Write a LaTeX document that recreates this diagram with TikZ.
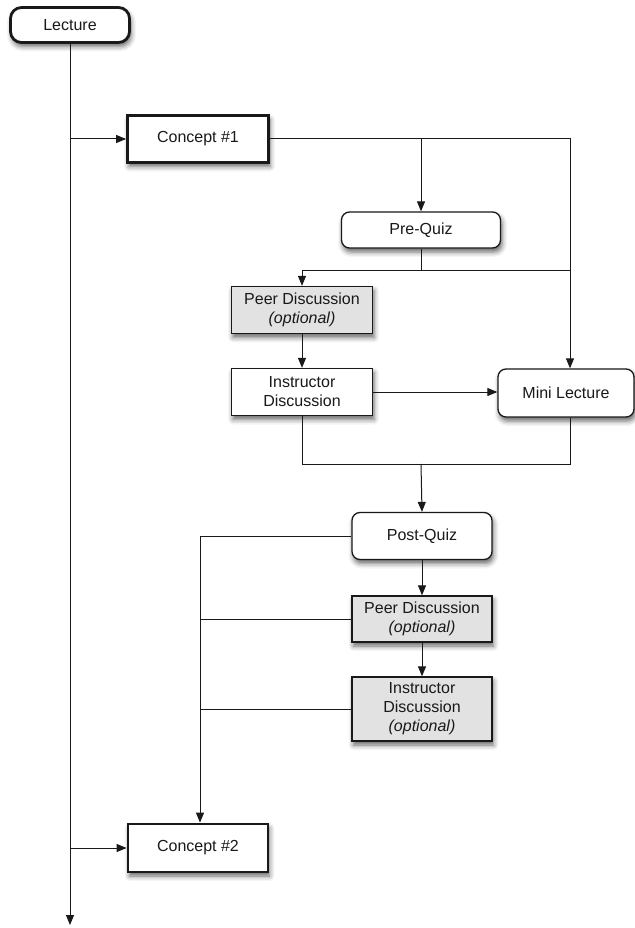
\documentclass[tikz,border=0pt]{standalone}
\usepackage{fontspec}
\setmainfont{Liberation Sans}
\usetikzlibrary{arrows.meta, shadows.blur}
\definecolor{linie}{RGB}{25,25,25}
\definecolor{kasten}{RGB}{226,226,226}

\begin{document}
\begin{tikzpicture}[x=1pt, y=-1pt, linie,
    font=\fontsize{16}{19}\selectfont,
    base/.style={draw=linie, fill=white, line width=1.3pt, align=center, inner sep=0pt,
        blur shadow={shadow xshift=1.5pt, shadow yshift=-4pt, shadow blur radius=5pt, shadow opacity=60}},
    kastenbox/.style={base, minimum width=141pt, minimum height=47pt},
    rundbox/.style={kastenbox, rounded corners=8pt},
    dickbox/.style={kastenbox, line width=2.8pt},
    grau/.style={fill=kasten},
    pfeil/.style={-{Triangle[length=10pt, width=8pt]}},
    verb/.style={line width=1pt}]

    \useasboundingbox (0,0) rectangle (634,928);

    \node[dickbox, rounded corners=11pt, minimum width=119pt, minimum height=35pt] (lecture) at (70,25) {Lecture};
    \node[dickbox] (konzept1) at (198,139) {Concept \#1};
    \node[rundbox, minimum width=159pt, minimum height=36pt] (prequiz) at (421,230) {Pre-Quiz};
    \node[kastenbox, grau] (peer1) at (302,310) {Peer Discussion\\\textit{(optional)}};
    \node[kastenbox] (instr1) at (302,392) {Instructor\\Discussion};
    \node[rundbox, minimum width=136pt, minimum height=48pt] (mini) at (566,393) {Mini Lecture};
    \node[rundbox, minimum width=140pt] (postquiz) at (422,536) {Post-Quiz};
    \node[kastenbox, grau, minimum width=140pt, minimum height=46pt] (peer2) at (422,619) {Peer Discussion\\\textit{(optional)}};
    \node[kastenbox, grau, minimum width=140pt, minimum height=64pt] (instr2) at (422,709) {Instructor\\Discussion\\\textit{(optional)}};
    \node[dickbox, minimum width=140pt, minimum height=48pt] (konzept2) at (198,848) {Concept \#2};

    \coordinate (ende) at (70,925);
    \coordinate (rechts) at (570,139);
    \coordinate (teilung) at (570,270);
    \coordinate (treffen) at (421,464);
    \coordinate (links) at (200,536);

    % Hauptlinie
    \draw[verb, pfeil] (lecture.south) -- (ende);
    \draw[verb, pfeil] (lecture.south |- konzept1.west) -- (konzept1.west);
    \draw[verb, pfeil] (konzept1.east) -- (rechts) -- (rechts |- mini.north);
    \draw[verb, pfeil] (prequiz.north |- konzept1.east) -- (prequiz.north);

    \draw[verb] (prequiz.south) -- (prequiz.south |- teilung);
    \draw[verb, pfeil] (teilung) -- (peer1.north |- teilung) -- (peer1.north);
    \draw[verb, pfeil] (peer1) -- (instr1);
    \draw[verb, pfeil] (instr1.east) -- (instr1.east -| mini.west);
    \draw[verb] (instr1.south) |- (treffen -| rechts) -- (rechts |- mini.south);
    \draw[verb, pfeil] (treffen) -- (postquiz.north);

    \draw[verb, pfeil] (postquiz) -- (peer2);
    \draw[verb, pfeil] (peer2) -- (instr2);
    \draw[verb, pfeil] (postquiz.west) -| (links |- konzept2.north);
    \draw[verb] (peer2.west) -- (peer2.west -| links);
    \draw[verb] (instr2.west) -- (instr2.west -| links);
    \draw[verb, pfeil] (konzept2.west -| ende) -- (konzept2.west);

\end{tikzpicture}
\end{document}
